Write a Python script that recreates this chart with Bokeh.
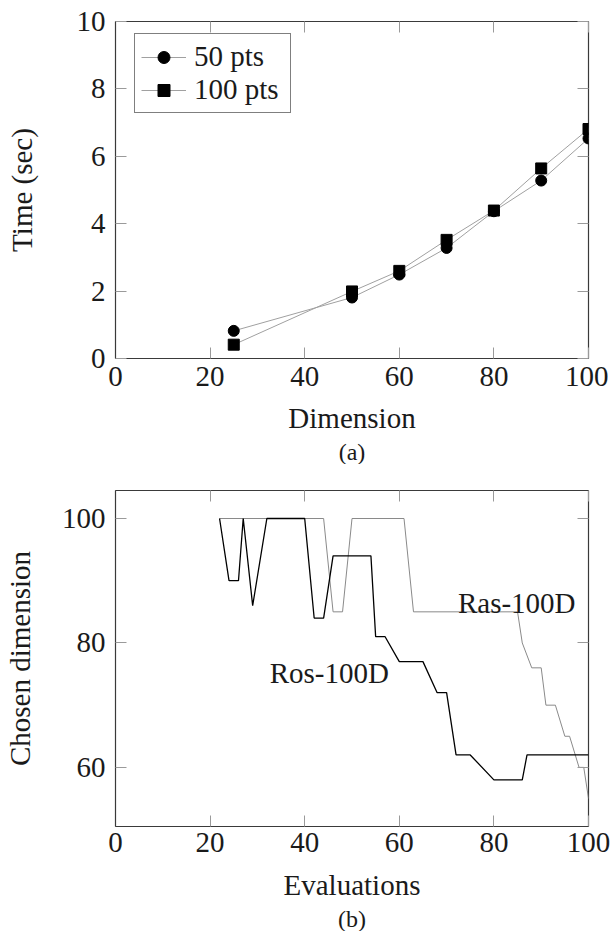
from bokeh.plotting import figure
from bokeh.layouts import column
from bokeh.models import (LinearAxis, Range1d, Title, Label, Legend, LegendItem,
                          FixedTicker, CustomLabelingPolicy)
from bokeh.embed import file_html
from bokeh.resources import INLINE

# ---------------- data ----------------
dims = [25, 50, 60, 70, 80, 90, 100]
time_50pts = [0.82, 1.81, 2.49, 3.28, 4.37, 5.28, 6.53]
time_100pts = [0.41, 1.99, 2.60, 3.52, 4.39, 5.64, 6.81]

ras_evals = [22, 44, 46, 48, 50, 61, 63, 85, 86, 88, 90, 91, 93, 95, 96, 98, 99, 100]
ras_dim = [100, 100, 85, 85, 100, 100, 85, 85, 80, 76, 76, 70, 70, 65, 65, 60, 60, 55]

ros_evals = [22, 24, 26, 27, 29, 32, 40, 42, 44, 46, 54, 55, 57, 60, 65, 68, 70, 72,
             75, 80, 86, 87, 100]
ros_dim = [100, 90, 90, 100, 86, 100, 100, 84, 84, 94, 94, 81, 81, 77, 77, 72, 72, 62,
           62, 58, 58, 62, 62]

x_ticks = [0, 20, 40, 60, 80, 100]
time_ticks = [0, 2, 4, 6, 8, 10]
dim_ticks = [60, 80, 100]

FONT = "Liberation Serif"
TICK_FS = "29px"
LABEL_FS = "29px"
TEXT_COLOR = "#1a1a1a"


def style_axes(p, xticks, yticks, ylabel_standoff, xlabel_standoff):
    p.grid.visible = False
    p.outline_line_color = "#3a3a3a"
    p.outline_line_width = 1.2
    p.background_fill_color = "white"
    p.border_fill_color = "white"
    for ax in list(p.xaxis) + list(p.yaxis):
        ax.major_tick_in = 11
        ax.major_tick_out = 0
        ax.minor_tick_in = 0
        ax.minor_tick_out = 0
        ax.major_tick_line_color = "#9a9a9a"
        ax.axis_line_color = "#3a3a3a"
        ax.major_label_text_font = FONT
        ax.major_label_text_font_size = TICK_FS
        ax.major_label_text_font_style = "normal"
        ax.major_label_text_color = TEXT_COLOR
        ax.axis_label_text_font = FONT
        ax.axis_label_text_font_size = LABEL_FS
        ax.axis_label_text_font_style = "normal"
        ax.axis_label_text_color = TEXT_COLOR
    p.xaxis.ticker = FixedTicker(ticks=xticks)
    p.yaxis.ticker = FixedTicker(ticks=yticks)
    p.xaxis.major_label_standoff = 8
    p.xaxis.axis_label_standoff = xlabel_standoff
    p.yaxis.major_label_standoff = 10
    p.yaxis.axis_label_standoff = ylabel_standoff
    # mirrored ticks on top and right (no labels)
    for loc, ticks in (("above", xticks), ("right", yticks)):
        ax = LinearAxis(ticker=FixedTicker(ticks=ticks),
                        major_label_policy=CustomLabelingPolicy(code="return []"),
                        major_label_text_font_size="1px",
                        major_label_standoff=0,
                        major_tick_in=11, major_tick_out=0,
                        minor_tick_in=0, minor_tick_out=0,
                        major_tick_line_color="#9a9a9a",
                        axis_line_color=None)
        p.add_layout(ax, loc)


# ---------------- chart (a) ----------------
p1 = figure(frame_width=473, frame_height=337,
            x_range=Range1d(0, 100), y_range=Range1d(0, 10),
            output_backend="svg", toolbar_location=None,
            min_border_left=110, min_border_top=21, min_border_right=22,
            min_border_bottom=0,
            x_axis_label="Dimension", y_axis_label="Time (sec)")
style_axes(p1, x_ticks, time_ticks, 36, 13)

l50 = p1.line(dims, time_50pts, line_color="#a0a0a0", line_width=1)
s50 = p1.scatter(dims, time_50pts, marker="circle", size=11,
                 fill_color="black", line_color="black")
l100 = p1.line(dims, time_100pts, line_color="#a0a0a0", line_width=1)
s100 = p1.scatter(dims, time_100pts, marker="square", size=11,
                  fill_color="black", line_color="black")

legend = Legend(items=[LegendItem(label="50 pts", renderers=[l50, s50]),
                       LegendItem(label="100 pts", renderers=[l100, s100])],
                location=(19, 245), margin=0, padding=6, spacing=0,
                label_standoff=8, glyph_width=45, glyph_height=30,
                label_height=30, label_width=90,
                label_text_font=FONT, label_text_font_size="29px",
                label_text_color=TEXT_COLOR,
                border_line_color="black", border_line_width=1,
                background_fill_color="white", background_fill_alpha=1)
p1.add_layout(legend)

cap_a = Title(text="(a)", align="center", offset=-46, text_font=FONT,
              text_font_size="24px", text_font_style="normal",
              text_color=TEXT_COLOR, standoff=0)
p1.add_layout(cap_a, "below")

# ---------------- chart (b) ----------------
p2 = figure(frame_width=473, frame_height=336,
            x_range=Range1d(0, 100), y_range=Range1d(50.5, 104.5),
            output_backend="svg", toolbar_location=None,
            min_border_left=110, min_border_top=26, min_border_right=22,
            min_border_bottom=0,
            x_axis_label="Evaluations", y_axis_label="Chosen dimension")
style_axes(p2, x_ticks, dim_ticks, 23, 14)
p2.xaxis.major_label_standoff = 6

p2.line(ras_evals, ras_dim, line_color="#8a8a8a", line_width=1)
p2.line(ros_evals, ros_dim, line_color="black", line_width=1.3)

p2.add_layout(Label(x=72.4, y=86.4, text="Ras-100D", text_font=FONT,
                    text_font_size="29px", text_color=TEXT_COLOR,
                    text_baseline="alphabetic", text_align="left"))
p2.add_layout(Label(x=32.6, y=75.1, text="Ros-100D", text_font=FONT,
                    text_font_size="29px", text_color=TEXT_COLOR,
                    text_baseline="alphabetic", text_align="left"))

cap_b = Title(text="(b)", align="center", offset=-46, text_font=FONT,
              text_font_size="24px", text_font_style="normal",
              text_color=TEXT_COLOR, standoff=0)
p2.add_layout(cap_b, "below")

layout = column(p1, p2, spacing=0)
open("out.html", "w").write(file_html(layout, INLINE))
